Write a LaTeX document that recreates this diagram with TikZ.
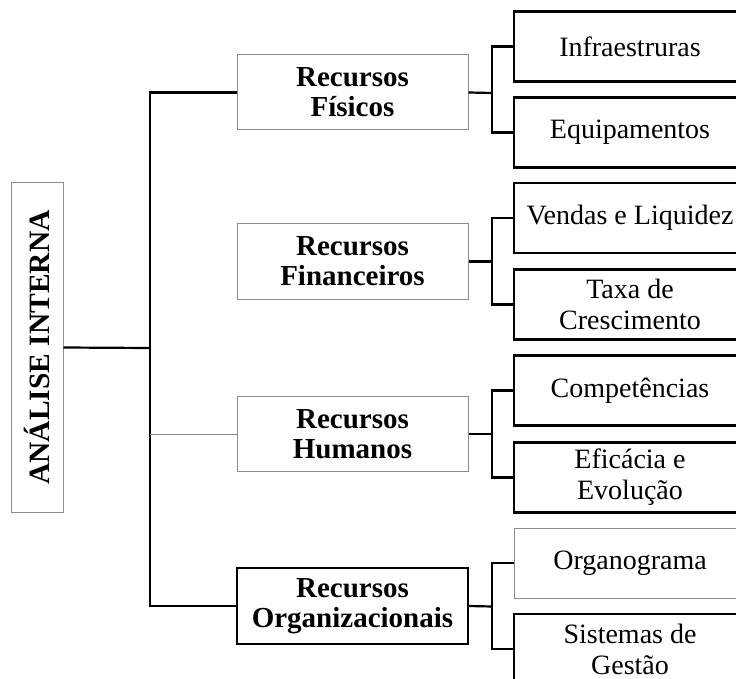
\documentclass[tikz,border=0pt]{standalone}
\usepackage{fontspec}
\setmainfont{Liberation Serif}
\begin{document}
\begin{tikzpicture}[x=1pt,y=-1pt,
  thickline/.style={line width=2.2pt, black},
  thinline/.style={line width=1pt, black!45},
  midbox/.style={rectangle, inner sep=0pt, minimum width=231pt, minimum height=75pt, align=center,
     font=\fontsize{29}{30}\selectfont\bfseries},
  subbox/.style={rectangle, inner sep=0pt, minimum width=232pt, minimum height=70pt, align=center,
     font=\fontsize{28}{31}\selectfont, thickline, draw},
  graybox/.style={draw=black!45, line width=1pt},
  blackbox/.style={draw=black, line width=2.2pt}
]
\useasboundingbox (0,0) rectangle (736,679);
\clip (0,0) rectangle (736,679);

% left box
\node[rectangle, inner sep=0pt, minimum width=52pt, minimum height=329pt, graybox,
      font=\fontsize{29.5}{30}\selectfont\bfseries] (L) at (37,347.5)
      {\rotatebox{90}{ANÁLISE INTERNA}};

% middle boxes
\node[midbox, graybox] (F) at (352.5,92.5) {Recursos\\Físicos};
\node[midbox, graybox] (Fi) at (352.5,261.5) {Recursos\\Financeiros};
\node[midbox, graybox] (H) at (352.5,434) {Recursos\\Humanos};
\node[midbox, blackbox, minimum height=76pt] (O) at (352.5,606) {Recursos\\Organizacionais};

% sub boxes
\node[subbox] (S1) at (630,46.5) {Infraestruras};
\node[subbox] (S2) at (630,132.5) {Equipamentos};
\node[subbox] (S3) at (630,218) {Vendas e Liquidez};
\node[subbox] (S4) at (630,304.5) {Taxa de\\Crescimento};
\node[subbox] (S5) at (630,390.5) {Competências};
\node[subbox] (S6) at (630,477.5) {Eficácia e\\Evolução};
\node[subbox, draw=black!45, line width=1pt] (S7) at (630,563) {Organograma};
\node[subbox] (S8) at (630,649) {Sistemas de\\Gestão};

% trunk
\coordinate (T) at (150,348);
\draw[thickline] (L.east) -- (T);
\draw[thickline] (F.west) -- (F.west -| T) -- (O.west -| T) -- (O.west);
\draw[thinline] (H.west) -- (H.west -| T);

% forks
\coordinate (f1) at (492,93);
\coordinate (f2) at (492,261.5);
\coordinate (f3) at (492,434);
\coordinate (f4) at (492,606.5);
\draw[thickline] (F.east) -- (f1);
\draw[thickline] (S1.west) -| (f1) |- (S2.west);
\draw[thickline] (Fi.east) -- (f2);
\draw[thickline] (S3.west) -| (f2) |- (S4.west);
\draw[thickline] (H.east) -- (f3);
\draw[thickline] (S5.west) -| (f3) |- (S6.west);
\draw[thickline] (O.east) -- (f4);
\draw[thickline] (S7.west) -| (f4) |- (S8.west);
\end{tikzpicture}
\end{document}
